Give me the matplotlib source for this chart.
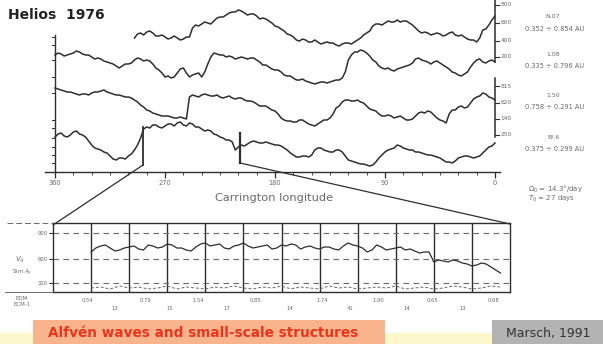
import numpy as np
import matplotlib.pyplot as plt
from matplotlib.patches import Rectangle, ConnectionPatch

W, H = 603, 344

# Carrington longitude grid for the upper traces (deg), 5 deg steps;
# the *_mid lists hold the readings halfway between grid points
lon_full = np.arange(360, -1, -5)
lon_a = np.arange(295, -1, -5)

# upper traces, height above the longitude axis (arbitrary offset units)
trace_a = [134, 139, 140, 139, 136, 135, 134, 134, 133, 135, 147, 148, 149, 151, 155,
           157, 160, 162, 159, 158, 156, 154, 151, 146, 143, 138, 135, 131, 132, 130,
           130, 129, 129, 127, 128, 129, 130, 134, 139, 146, 148, 149, 150, 152, 151,
           149, 144, 139, 139, 138, 138, 137, 140, 136, 135, 132, 130, 142, 147, 156]
trace_a_mid = [138, 137, 141, 136, 137, 133, 136, 132, 135, 144, 146, 150, 148, 154, 155,
               159, 160, 161, 157, 158, 153, 153, 149, 145, 141, 137, 132, 133, 130, 132,
               128, 130, 129, 126, 129, 128, 132, 137, 141, 148, 147, 151, 150, 150, 151,
               147, 141, 140, 137, 139, 136, 139, 137, 137, 133, 132, 134, 143, 152]
trace_b = [117, 118, 117, 119, 120, 117, 115, 114, 111, 109, 106, 106, 108, 112, 113,
           112, 108, 102, 95, 94, 99, 104, 95, 98, 95, 108, 119, 117, 115, 115,
           114, 114, 114, 112, 107, 105, 102, 100, 96, 94, 92, 91, 89, 89, 90,
           90, 92, 94, 112, 120, 122, 119, 112, 106, 103, 102, 103, 105, 107, 113,
           112, 110, 110, 109, 105, 100, 97, 98, 105, 112, 110, 111, 110]
trace_b_mid = [119, 116, 118, 121, 118, 117, 113, 113, 110, 108, 104, 108, 109, 114, 111,
               111, 104, 99, 96, 95, 103, 99, 97, 99, 100, 115, 118, 117, 116, 113,
               115, 113, 114, 110, 107, 103, 102, 97, 96, 92, 93, 90, 88, 90, 89,
               91, 92, 100, 117, 120, 121, 116, 110, 104, 104, 101, 104, 106, 109, 114,
               111, 108, 111, 107, 103, 99, 96, 100, 109, 113, 109, 112]
trace_c = [84, 82, 80, 79, 77, 78, 79, 80, 82, 79, 77, 76, 75, 72, 67,
           62, 59, 57, 56, 55, 54, 54, 75, 76, 77, 77, 76, 75, 75, 74,
           74, 72, 71, 68, 66, 64, 61, 54, 51, 50, 52, 50, 47, 48, 52,
           54, 64, 70, 72, 71, 70, 66, 62, 58, 56, 56, 55, 54, 52, 56,
           60, 61, 57, 52, 49, 62, 65, 64, 69, 75, 79, 75, 72]
trace_c_mid = [83, 81, 80, 78, 78, 77, 80, 81, 80, 78, 77, 75, 74, 70, 65,
               61, 58, 56, 56, 54, 55, 53, 77, 75, 78, 76, 77, 74, 76, 73,
               74, 71, 70, 66, 66, 62, 58, 52, 51, 50, 52, 48, 46, 50, 52,
               58, 66, 72, 71, 72, 69, 63, 61, 56, 57, 54, 56, 52, 53, 59,
               59, 60, 54, 51, 58, 62, 66, 65, 73, 76, 78, 74]
trace_d = [35, 39, 35, 40, 38, 35, 27, 23, 20, 16, 12, 14, 16, 22, 34,
           45, 47, 45, 46, 48, 49, 47, 49, 45, 43, 42, 38, 35, 32, 30,
           25, 26, 30, 30, 29, 29, 27, 26, 22, 17, 15, 16, 17, 24, 22,
           20, 22, 20, 12, 10, 8, 7, 7, 14, 20, 23, 27, 24, 22, 20,
           19, 17, 16, 14, 10, 9, 14, 16, 15, 15, 19, 25, 29]
trace_d_mid = [38, 36, 37, 41, 37, 31, 24, 22, 19, 13, 14, 13, 18, 27, 43,
               44, 47, 44, 48, 46, 50, 46, 48, 45, 41, 41, 37, 34, 32, 22,
               27, 28, 31, 29, 30, 28, 27, 24, 19, 15, 16, 15, 22, 24, 21,
               20, 22, 16, 11, 9, 8, 6, 10, 17, 22, 24, 26, 23, 22, 20,
               18, 17, 15, 12, 10, 11, 15, 16, 14, 16, 22, 26]

lon_ticks = [360, 270, 180, 90, 0]
right_ticks_1 = [167, 149, 131, 115]
right_labels_1 = ["800", "600", "400", "200"]
right_ticks_2 = [86, 69, 53, 37]
right_labels_2 = ["815", "620", "140", "250"]
left_ticks = [135, 127, 112, 95, 79, 52, 44, 34, 25, 17, 9]

trace_names = ["N.07", "1.08", "1.50", "B/.6"]
trace_ranges = ["0.352 \u00f7 0.854 AU", "0.335 \u00f7 0.796 AU",
                "0.758 \u00f7 0.291 AU", "0.375 \u00f7 0.299 AU"]

# zoomed interval: one column per day, 0.25 day sampling (+ half steps)
days = np.arange(1.0, 11.76, 0.25)
v_alfven = [40, 46, 44, 42, 45, 43, 47, 44, 48, 44, 42, 45, 49, 47, 44,
            46, 49, 44, 46, 43, 47, 48, 43, 46, 43, 45, 42, 49, 46, 40,
            47, 42, 44, 42, 41, 40, 30, 31, 32, 29, 26, 29, 25, 19]
v_alfven_mid = [44, 47, 41, 44, 46, 42, 46, 45, 47, 44, 41, 48, 46, 48, 43,
                47, 46, 45, 47, 44, 46, 47, 45, 44, 45, 43, 46, 47, 44, 42,
                45, 43, 45, 43, 39, 40, 32, 30, 31, 28, 27, 28, 22]
v_lower = [4, 5, 3, 6, 4, 5, 3, 4, 6, 3, 5, 4, 3, 5, 4, 6, 4, 3, 5, 4, 6, 3,
           5, 4, 3, 6, 4, 5, 3, 4, 5, 4, 6, 3, 4, 5, 3, 4, 6, 5, 3, 4, 6, 5]
level_lines = [59, 33, 9]
level_labels = ["900", "600", "300"]
row1_x = [87, 145, 198, 255, 322, 378, 433, 493]
row1_text = ["0.54", "0.79", "1.54", "0.85", "1.74", "1.90", "0.65", "0.68"]
row2_x = [115, 170, 227, 290, 350, 407, 463]
row2_text = ["13", "15", "17", "14", "41", "14", "13"]

INK = "#2e2e2e"
LIGHT = "#6a6a6a"


def fx(x):
    return x / W


def fy(y):
    return 1 - y / H


def weave(x, vals, mids):
    """Merge grid readings and half-step readings into one series."""
    x = np.asarray(x, dtype=float)
    xs = np.empty(2 * len(x) - 1)
    ys = np.empty(2 * len(x) - 1)
    xs[0::2] = x
    xs[1::2] = (x[:-1] + x[1:]) / 2
    ys[0::2] = vals
    ys[1::2] = mids
    return xs, ys


fig = plt.figure(figsize=(W / 100, H / 100), dpi=100)
fig.patch.set_facecolor("white")

# --- upper panel: four traces versus Carrington longitude ---
ax = fig.add_axes([fx(45), fy(172), fx(455), 172 / H])
ax.set_xlim(368.2, -4.1)
ax.set_ylim(0, 172)
for s in ["top", "right", "left"]:
    ax.spines[s].set_visible(False)
ax.spines["bottom"].set_color(INK)
ax.spines["bottom"].set_linewidth(1.0)
ax.set_yticks([])
ax.set_xticks(lon_ticks)
ax.set_xticklabels([str(t) for t in lon_ticks])
ax.set_xticks(np.arange(360, -1, -15), minor=True)
ax.tick_params(axis="x", which="major", length=4, width=0.9, color=INK,
               labelsize=4.8, labelcolor=LIGHT, pad=2)
ax.tick_params(axis="x", which="minor", length=2, width=0.6, color=INK)
ax.patch.set_alpha(0)

for lon, vals, mids in [(lon_a, trace_a, trace_a_mid), (lon_full, trace_b, trace_b_mid),
                        (lon_full, trace_c, trace_c_mid), (lon_full, trace_d, trace_d_mid)]:
    xs, ys = weave(lon, vals, mids)
    ax.plot(xs, ys, color=INK, lw=1.1)

# left scale
ax.plot([360, 360], [0, 137], color=INK, lw=1.0)
for t in left_ticks:
    ax.plot([360, 362.5], [t, t], color=INK, lw=0.7, clip_on=False)

# right scales
ax.plot([0, 0], [110, 172], color=INK, lw=1.1, clip_on=False)
ax.plot([0, 0], [35, 94], color=INK, lw=1.1, clip_on=False)
for ticks, labels in [(right_ticks_1, right_labels_1), (right_ticks_2, right_labels_2)]:
    for t, lab in zip(ticks, labels):
        ax.plot([0, -3.5], [t, t], color=INK, lw=0.8, clip_on=False)
        ax.text(-4.5, t, lab, fontsize=4.2, color=LIGHT, va="center", ha="left")

# brackets marking the interval shown below
ax.plot([288, 288], [7, 45], color=INK, lw=1.3)
ax.plot([208.6, 208.6], [9, 39], color=INK, lw=1.6)

fig.text(fx(274), fy(198), "Carrington longitude", fontsize=8.2, color=LIGHT,
         ha="center", va="center")
fig.text(fx(8), fy(15), "Helios  1976", fontsize=10, fontweight="bold",
         color="#222222", ha="left", va="center")

for i, (name, rng) in enumerate(zip(trace_names, trace_ranges)):
    y0 = [17, 54, 95, 137][i]
    fig.text(fx(553), fy(y0), name, fontsize=4.5, color=LIGHT, ha="center", va="center")
    fig.text(fx(525), fy(y0 + 12), rng, fontsize=4.8, color=LIGHT, ha="left", va="center")

fig.text(fx(528), fy(189), "$\\Omega_0$ = 14.3\u00b0/day", fontsize=5, color=LIGHT,
         ha="left", va="center")
fig.text(fx(528), fy(199), "$T_0$ = 27 days", fontsize=5, color=LIGHT,
         ha="left", va="center")

# --- lower panel: zoomed interval, one day per column ---
bx = fig.add_axes([fx(53), fy(292), fx(457), 69 / H])
bx.set_xlim(0, 12)
bx.set_ylim(0, 69)
for s in bx.spines.values():
    s.set_color(INK)
    s.set_linewidth(1.0)
bx.set_xticks([])
bx.set_yticks(level_lines)
bx.set_yticklabels(level_labels)
bx.tick_params(axis="y", length=3, width=0.6, labelsize=3.8, labelcolor=LIGHT, pad=1)
for d in range(1, 12):
    bx.axvline(d, color=INK, lw=1.0)
for lv in level_lines:
    bx.axhline(lv, color=LIGHT, lw=0.8, ls=(0, (5, 4)))
xs, ys = weave(days, v_alfven, v_alfven_mid)
bx.plot(xs, ys, color=INK, lw=0.9)
bx.plot(days, v_lower, color=LIGHT, lw=0.7, ls=(0, (3, 2)))

fig.text(fx(20), fy(260), "$V_A$", fontsize=5, color=LIGHT, ha="center", va="center")
fig.text(fx(22), fy(273), "Sim $A_p$", fontsize=4, color=LIGHT, ha="center", va="center")
fig.text(fx(22), fy(298), "EDM", fontsize=4, color=LIGHT, ha="center", va="center")
fig.text(fx(22), fy(304), "ECM-1", fontsize=4, color=LIGHT, ha="center", va="center")
fig.add_artist(plt.Line2D([fx(7), fx(53)], [fy(223), fy(223)], color=LIGHT, lw=0.7,
                          ls=(0, (6, 3))))
fig.add_artist(plt.Line2D([fx(5), fx(53)], [fy(292), fy(292)], color=LIGHT, lw=0.7))
for x, t in zip(row1_x, row1_text):
    fig.text(fx(x), fy(301), t, fontsize=3.8, color=LIGHT, ha="center", va="center")
for x, t in zip(row2_x, row2_text):
    fig.text(fx(x), fy(309), t, fontsize=3.8, color=LIGHT, ha="center", va="center")

# connectors from the brackets to the zoomed panel
for xa, ya, xb, yb in [(288, 7, 0, 67), (208.6, 9, 12, 68)]:
    con = ConnectionPatch(xyA=(xa, ya), coordsA=ax.transData,
                          xyB=(xb, yb), coordsB=bx.transData,
                          color=INK, lw=0.9)
    fig.add_artist(con)

# --- footer banner ---
fig.add_artist(Rectangle((0, 0), 1, fy(333), transform=fig.transFigure,
                         facecolor="#fdf7cc", edgecolor="none"))
fig.add_artist(Rectangle((fx(33), 0), fx(352), fy(320), transform=fig.transFigure,
                         facecolor="#f9b48e", edgecolor="none"))
fig.text(fx(203), fy(333), "Alfv\u00e9n waves and small-scale structures", fontsize=9.8,
         fontweight="bold", color="#e8351c", ha="center", va="center")
fig.add_artist(Rectangle((fx(492), 0), fx(111), fy(320), transform=fig.transFigure,
                         facecolor="#b3b3b3", edgecolor="none"))
fig.text(fx(548), fy(333), "Marsch, 1991", fontsize=9, color="#333333",
         ha="center", va="center")

fig.savefig("out.png", dpi=100)
